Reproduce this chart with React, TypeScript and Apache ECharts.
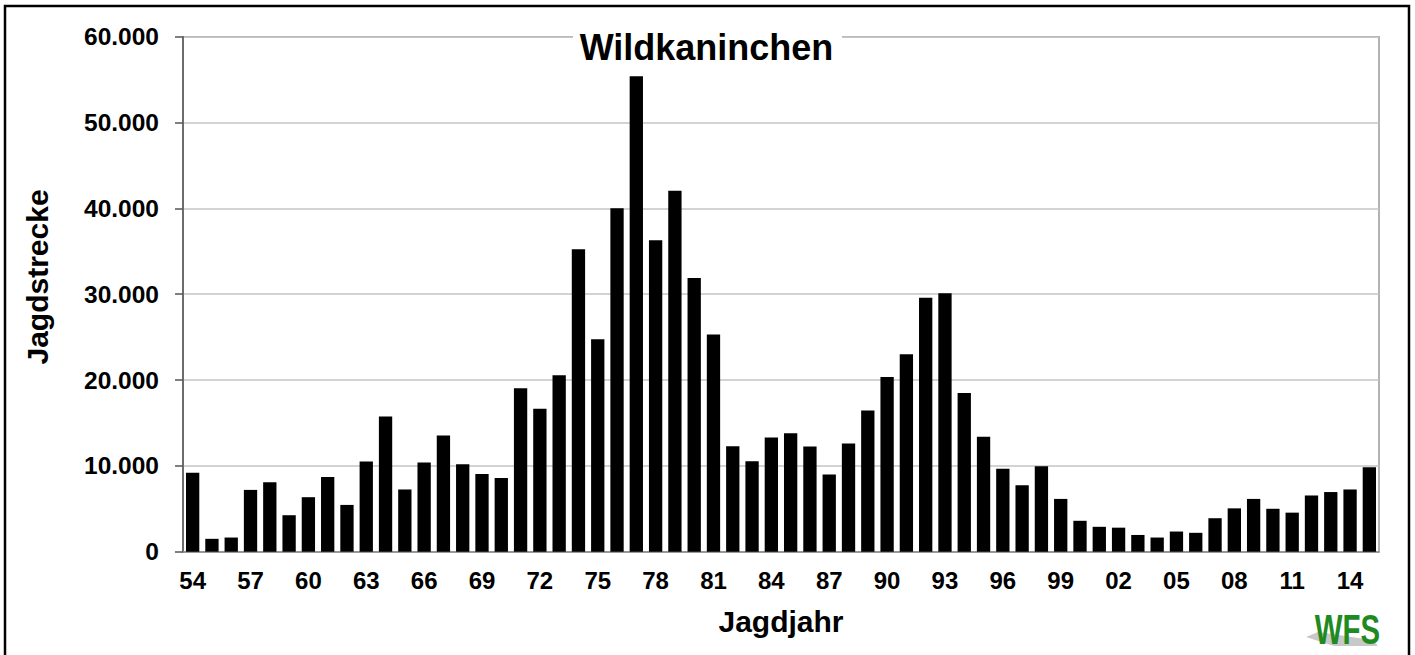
import React, { useEffect, useRef } from "react";
import * as echarts from "echarts";

const categories = [
  "54", "55", "56", "57", "58", "59", "60", "61", "62", "63",
  "64", "65", "66", "67", "68", "69", "70", "71", "72", "73",
  "74", "75", "76", "77", "78", "79", "80", "81", "82", "83",
  "84", "85", "86", "87", "88", "89", "90", "91", "92", "93",
  "94", "95", "96", "97", "98", "99", "00", "01", "02", "03",
  "04", "05", "06", "07", "08", "09", "10", "11", "12", "13",
  "14", "15",
];

const jagdstrecke = [
  9200, 1500, 1650, 7200, 8100, 4250, 6350, 8700, 5450, 10500,
  15750, 7250, 10400, 13550, 10200, 9050, 8600, 19050, 16650, 20550,
  35250, 24750, 40000, 55400, 36300, 42050, 31900, 25300, 12300, 10550,
  13300, 13800, 12250, 9000, 12600, 16450, 20350, 23000, 29600, 30100,
  18500, 13400, 9650, 7750, 9950, 6150, 3600, 2900, 2800, 1950,
  1650, 2350, 2200, 3900, 5050, 6150, 5000, 4550, 6550, 6950,
  7250, 9850,
];

const yMin = 0;
const yMax = 60000;
const yStep = 10000;

const titleText = "Wildkaninchen";
const yName = "Jagdstrecke";
const xName = "Jagdjahr";
const logoText = "WFS";

const FONT = '"Liberation Sans", Arial, sans-serif';

const fmt = (v: number) =>
  v === 0 ? "0" : String(v).replace(/\B(?=(\d{3})+(?!\d))/g, ".");

export default function App() {
  const ref = useRef<HTMLDivElement>(null);

  useEffect(() => {
    if (!ref.current) return;
    const chart = echarts.init(ref.current, undefined, { renderer: "svg" });
    chart.setOption({
      animation: false,
      backgroundColor: "#ffffff",
      textStyle: { fontFamily: FONT },
      grid: {
        left: 183,
        right: 36,
        top: 36.7,
        bottom: 103.3,
        show: true,
        borderColor: "#9a9a9a",
        borderWidth: 1.5,
        backgroundColor: "transparent",
      },
      xAxis: {
        type: "category",
        data: categories,
        axisLine: { show: true, lineStyle: { color: "#8a8a8a", width: 1.5 } },
        axisTick: { show: false },
        axisLabel: {
          interval: 2,
          color: "#000",
          fontFamily: FONT,
          fontWeight: "bold",
          fontSize: 24,
          margin: 17,
        },
        splitLine: { show: false },
      },
      yAxis: {
        type: "value",
        min: yMin,
        max: yMax,
        interval: yStep,
        axisLine: { show: true, lineStyle: { color: "#555", width: 1.5 } },
        axisTick: { show: true, inside: false, length: 8, lineStyle: { color: "#555", width: 1.5 } },
        axisLabel: {
          color: "#000",
          fontFamily: FONT,
          fontWeight: "bold",
          fontSize: 24.5,
          margin: 24,
          formatter: (v: number) => fmt(v),
        },
        splitLine: { show: true, lineStyle: { color: "#c4c4c4", width: 1.5 } },
      },
      series: [
        {
          type: "bar",
          data: jagdstrecke,
          barWidth: "69%",
          itemStyle: { color: "#000" },
          silent: true,
        },
      ],
      graphic: [
        {
          type: "rect",
          shape: { x: 5, y: 6, width: 1404, height: 700 },
          style: { fill: "none", stroke: "#000", lineWidth: 2.5 },
          z: 100,
        },
        {
          type: "rect",
          shape: { x: 573, y: 30, width: 269, height: 14 },
          style: { fill: "#fff" },
          z: 100,
        },
        {
          type: "text",
          x: 706.5,
          y: 47,
          style: {
            text: titleText,
            font: `bold 36px ${FONT}`,
            fill: "#000",
            textAlign: "center",
            textVerticalAlign: "middle",
          },
          z: 101,
        },
        {
          type: "text",
          x: 37,
          y: 277,
          rotation: Math.PI / 2,
          style: {
            text: yName,
            font: `bold 30px ${FONT}`,
            fill: "#000",
            textAlign: "center",
            textVerticalAlign: "middle",
          },
          z: 101,
        },
        {
          type: "text",
          x: 781,
          y: 621,
          style: {
            text: xName,
            font: `bold 30px ${FONT}`,
            fill: "#000",
            textAlign: "center",
            textVerticalAlign: "middle",
          },
          z: 101,
        },
        {
          type: "polygon",
          shape: {
            points: [
              [1306, 637],
              [1318, 632],
              [1372, 640],
              [1378, 646],
              [1334, 646],
            ],
          },
          style: { fill: "#c8c8c8" },
          z: 100,
        },
        {
          type: "group",
          x: 1380,
          y: 630,
          scaleX: 0.7,
          z: 101,
          children: [
            {
              type: "text",
              x: 0,
              y: 0,
              style: {
                text: logoText,
                font: `bold 42px ${FONT}`,
                fill: "#1f8a1f",
                textAlign: "right",
                textVerticalAlign: "middle",
              },
              z: 101,
            },
          ],
        },
      ],
    });
    return () => chart.dispose();
  }, []);

  return (
    <div
      ref={ref}
      style={{ position: "absolute", left: 0, top: 0, width: 1415, height: 655, background: "#fff" }}
    />
  );
}
